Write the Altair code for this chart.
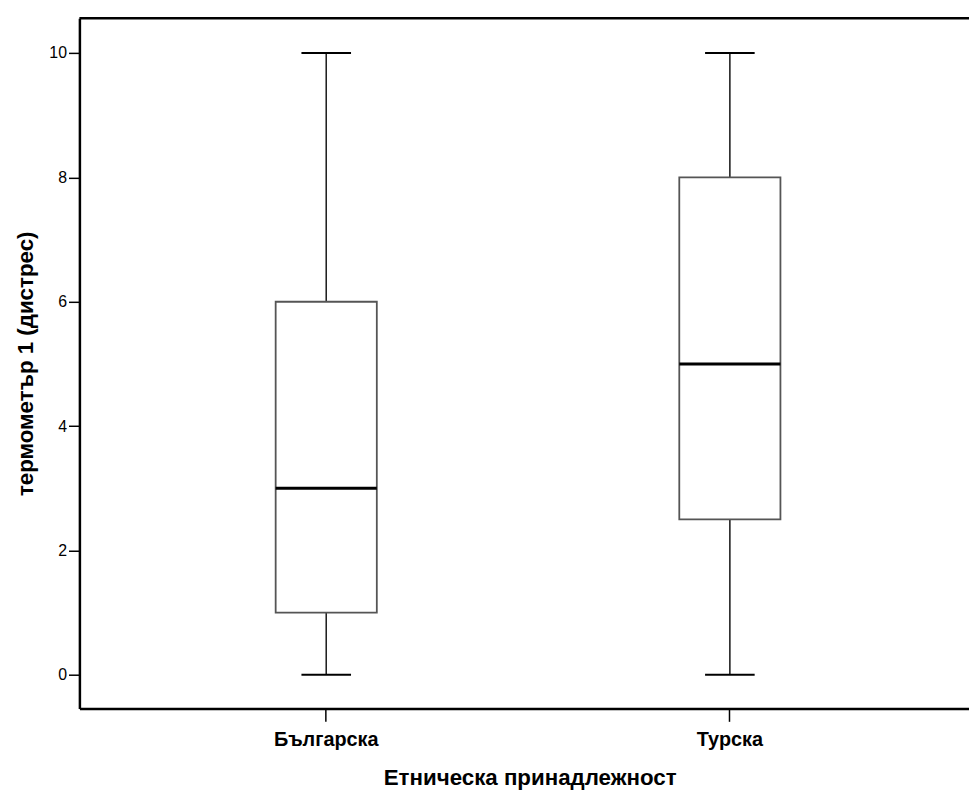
import altair as alt
import pandas as pd

# Data
groups = ["Българска", "Турска"]
mins = [0, 0]
q1s = [1, 2.5]
medians = [3, 5]
q3s = [6, 8]
maxs = [10, 10]

df = pd.DataFrame({
    "group": groups,
    "min": mins,
    "q1": q1s,
    "median": medians,
    "q3": q3s,
    "max": maxs,
})

W, H = 897, 696
FONT = "Liberation Sans"

x_enc = alt.X(
    "group:N",
    sort=groups,
    scale=alt.Scale(paddingInner=0.7494, paddingOuter=0.4767, align=0.51),
    axis=alt.Axis(
        title="Етническа принадлежност",
        labelAngle=0,
        labelFont=FONT, labelFontSize=20, labelFontWeight="bold", labelColor="black",
        labelBaseline="alphabetic", labelPadding=24,
        tickSize=13, tickWidth=1.5, tickColor="black",
        domainColor="black", domainWidth=2.5,
        titleFont=FONT, titleFontSize=22.5, titleFontWeight="bold", titleColor="black",
        titleBaseline="alphabetic", titleX=454, titleY=77,
    ),
)

y_scale = alt.Scale(domain=[-0.54, 10.56], nice=False, zero=False)
y_axis = alt.Axis(
    title="термометър 1 (дистрес)",
    values=[0, 2, 4, 6, 8, 10],
    grid=False,
    labelFont=FONT, labelFontSize=16, labelColor="black", labelPadding=2,
    tickSize=11, tickWidth=1.5, tickColor="black",
    domainColor="black", domainWidth=2.5,
    titleFont=FONT, titleFontSize=22.5, titleFontWeight="bold", titleColor="black",
    titleBaseline="alphabetic", titleX=-47, titleY=348,
)

base = alt.Chart(df)

whisk_lo = base.mark_rule(color="#222", strokeWidth=1.6).encode(
    x=x_enc, y=alt.Y("min:Q", scale=y_scale, axis=y_axis), y2="q1:Q"
)
whisk_hi = base.mark_rule(color="#222", strokeWidth=1.6).encode(
    x=x_enc, y=alt.Y("q3:Q", scale=y_scale, axis=y_axis), y2="max:Q"
)
box = base.mark_bar(fill="white", stroke="#555", strokeWidth=1.8).encode(
    x=x_enc, y=alt.Y("q1:Q", scale=y_scale, axis=y_axis), y2="q3:Q"
)
median = base.mark_tick(color="black", opacity=1, thickness=3, size=102).encode(
    x=x_enc, y=alt.Y("median:Q", scale=y_scale, axis=y_axis)
)
cap_lo = base.mark_tick(color="black", opacity=1, thickness=2, size=50).encode(
    x=x_enc, y=alt.Y("min:Q", scale=y_scale, axis=y_axis)
)
cap_hi = base.mark_tick(color="black", opacity=1, thickness=2, size=50).encode(
    x=x_enc, y=alt.Y("max:Q", scale=y_scale, axis=y_axis)
)
top_frame = alt.Chart(pd.DataFrame({"k": [0]})).mark_rule(
    color="black", strokeWidth=2.5
).encode(x=alt.value(0), x2=alt.value(W), y=alt.value(0))

chart = alt.layer(
    whisk_lo, whisk_hi, box, median, cap_lo, cap_hi, top_frame
).properties(
    width=W,
    height=H,
    autosize=alt.AutoSizeParams(type="none"),
    padding={"left": 72, "top": 7, "right": 0, "bottom": 81},
    background="white",
).configure_view(stroke=None)

chart.save("out.html", embed_options={"renderer": "svg", "actions": False})
